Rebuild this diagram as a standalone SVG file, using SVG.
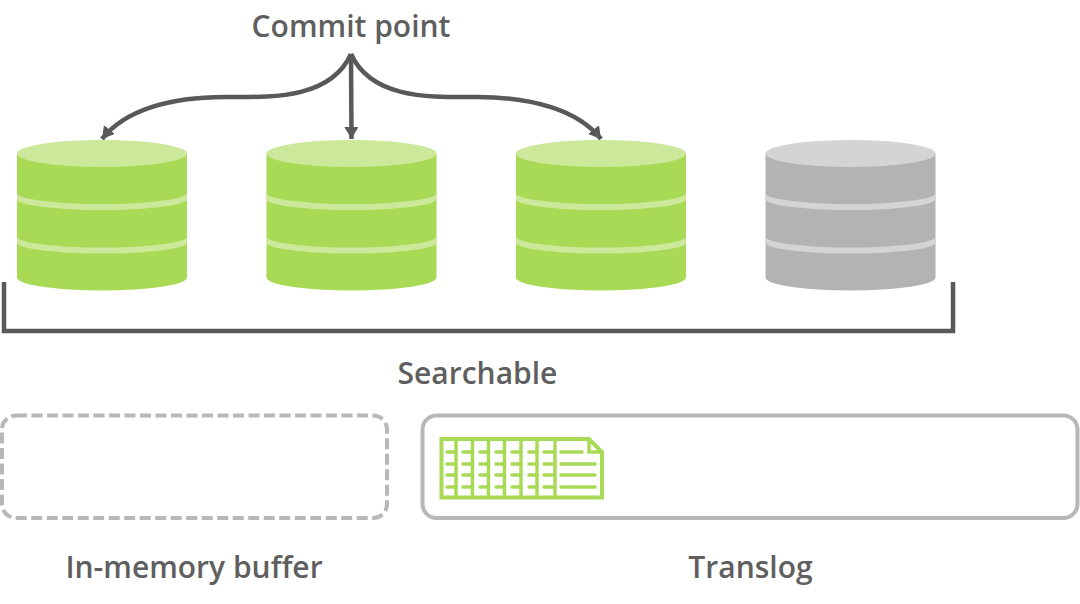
<svg xmlns="http://www.w3.org/2000/svg" width="1080" height="604" viewBox="0 0 1080 604">
<style>
text{font-family:"Open Sans","Noto Sans",sans-serif;font-size:30px;font-weight:600;fill:#5f5f5f;text-anchor:middle}
.conn{fill:none;stroke:#595959;stroke-width:4.500}
.green .body{fill:#a9da55}.green .light{fill:#cce89a}
.grey .body{fill:#b3b3b3}.grey .light{fill:#d4d4d4}
</style>
<defs>
<marker id="arrow" markerUnits="userSpaceOnUse" markerWidth="16" markerHeight="16" refX="12" refY="7" orient="auto"><path d="M0,0L12,7L0,14Z" fill="#595959"/></marker>
<path id="cyl-body" d="M-85,-63V61A85,13 0 0 0 85,61V-63Z"/>
<path id="cyl-light" d="M-85,-63A85,13.500 0 0 1 85,-63A85,13.500 0 0 1 -85,-63ZM-85,-23.500A85,11 0 0 0 85,-23.500V-17.500A85,11 0 0 1 -85,-17.500ZM-85,20A85,11 0 0 0 85,20V26A85,11 0 0 1 -85,26Z"/>
</defs>
<rect width="1080" height="604" fill="#fff"/>
<g id="connectors">
<path class="conn" marker-end="url(#arrow)" d="M351,54C330,100 270,97 225,97C170,97 125,110 102,139"/>
<path class="conn" marker-end="url(#arrow)" d="M351,54L351.500,139"/>
<path class="conn" marker-end="url(#arrow)" d="M351,54C372,100 432,97 477,97C532,97 578,110 601,139"/>
<path class="conn" stroke-width="4" d="M4,282V331H953V282"/>
</g>
<g id="segment-1" class="green"><use class="body" href="#cyl-body" x="102" y="216.500"/><use class="light" href="#cyl-light" x="102" y="216.500"/></g>
<g id="segment-2" class="green"><use class="body" href="#cyl-body" x="351.500" y="216.500"/><use class="light" href="#cyl-light" x="351.500" y="216.500"/></g>
<g id="segment-3" class="green"><use class="body" href="#cyl-body" x="601" y="216.500"/><use class="light" href="#cyl-light" x="601" y="216.500"/></g>
<g id="segment-4" class="grey"><use class="body" href="#cyl-body" x="850.500" y="216.500"/><use class="light" href="#cyl-light" x="850.500" y="216.500"/></g>
<g id="commit-point"><text x="351" y="37">Commit point</text></g>
<g id="searchable"><text x="477.500" y="384">Searchable</text></g>
<g id="buffer">
<rect x="2" y="415.500" width="385" height="102.500" rx="14" fill="none" stroke="#b8b8b8" stroke-width="4" stroke-dasharray="11 4.500"/>
<text x="194" y="578">In-memory buffer</text>
</g>
<g id="translog">
<rect x="422.500" y="415.500" width="655" height="102.500" rx="14" fill="none" stroke="#b8b8b8" stroke-width="4"/>
<text x="750.500" y="578">Translog</text>
<g fill="none" stroke="#a9da55" stroke-width="3.500">
<path stroke-width="4" d="M441.500,439H589L602,452V497.500H441.500Z"/>
<path d="M589,439V452H602M456,439V497M472.500,439V497M488.500,439V497M504.500,439V497M521,439V497M537,439V497M555,439V497"/>
<path stroke-linecap="round" d="M447,452H456M463,452H472M480,452H488M496,452H504M512,452H521M529,452H537M544,452H553M561,452H582M447,464H456M463,464H472M480,464H488M496,464H504M512,464H521M529,464H537M544,464H553M561,464H595M447,475H456M463,475H472M480,475H488M496,475H504M512,475H521M529,475H537M544,475H553M561,475H595M447,487H456M463,487H472M480,487H488M496,487H504M512,487H521M529,487H537M544,487H553M561,487H595"/>
</g>
</g>
</svg>
